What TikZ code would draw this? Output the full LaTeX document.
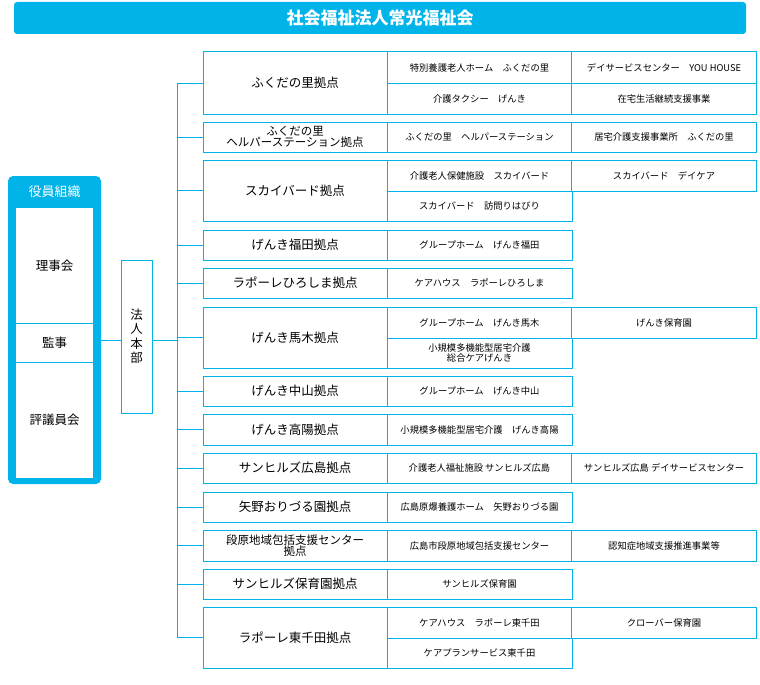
\documentclass[tikz,border=0pt]{standalone}
\usepackage{fontspec}
\setmainfont{Noto Sans CJK JP}
\usetikzlibrary{positioning}
\definecolor{sky}{HTML}{00B4EA}
\tikzset{
  box/.style={draw=sky, line width=1pt, fill=white, inner sep=0pt, align=center},
  base/.style={box, minimum width=184pt, font=\fontsize{12.5}{12.5}\selectfont},
  sub/.style={box, minimum width=185pt, minimum height=31pt, font=\fontsize{9.3}{10.5}\selectfont},
  link/.style={draw=sky, line width=1pt},
}
\begin{document}
\begin{tikzpicture}[x=1pt,y=-1pt]
    \useasboundingbox (0,0) rectangle (760,685);
    % title
    \node[fill=sky, rounded corners=3pt, minimum width=732pt, minimum height=32pt, text=white, font=\fontsize{17}{17}\selectfont\bfseries] (title) at (380,18) {社会福祉法人常光福祉会};
    % board
    \draw[fill=sky, draw=none, rounded corners=5pt] (8,176) rectangle (101,484);
    \node[text=white, font=\fontsize{13}{13}\selectfont] (yakuin) at (54.5,192) {役員組織};
    \node[box, draw=none, minimum width=77pt, minimum height=115pt, font=\fontsize{12.5}{12.5}\selectfont] (riji) at (54.5,265.5) {理事会};
    \node[box, draw=none, minimum width=77pt, minimum height=39pt, font=\fontsize{12.5}{12.5}\selectfont] (kanji) at (54.5,342.5) {監事};
    \node[box, draw=none, minimum width=77pt, minimum height=116pt, font=\fontsize{12.5}{12.5}\selectfont] (hyogi) at (54.5,420) {評議員会};
    \draw[sky, line width=1pt] (16,323) -- (93,323) (16,362) -- (93,362);
    \node[box, minimum width=31pt, minimum height=153pt, font=\fontsize{12.5}{14.5}\selectfont] (honbu) at (136.5,336.5) {法\\人\\本\\部};
    \coordinate (trunk) at (177,340);
    \draw[link] (101,340) -- (honbu.west |- 0,340);
    \draw[link] (honbu.east |- 0,340) -- (trunk);
    % bases
    \node[base, minimum height=62pt] (b1) at (295,83) {ふくだの里拠点};
    \node[base, minimum height=30pt, font=\fontsize{11.5}{11.5}\selectfont] (b2) at (295,137) {ふくだの里\\ヘルパーステーション拠点};
    \node[base, minimum height=61pt] (b3) at (295,190.5) {スカイバード拠点};
    \node[base, minimum height=30pt] (b4) at (295,245) {げんき福田拠点};
    \node[base, minimum height=30pt] (b5) at (295,283) {ラポーレひろしま拠点};
    \node[base, minimum height=61pt] (b6) at (295,337.5) {げんき馬木拠点};
    \node[base, minimum height=30pt] (b7) at (295,391) {げんき中山拠点};
    \node[base, minimum height=31pt] (b8) at (295,429.5) {げんき高陽拠点};
    \node[base, minimum height=30pt] (b9) at (295,468) {サンヒルズ広島拠点};
    \node[base, minimum height=30pt] (b10) at (295,507) {矢野おりづる園拠点};
    \node[base, minimum height=31pt, font=\fontsize{11.5}{11.5}\selectfont] (b11) at (295,545.5) {段原地域包括支援センター\\拠点};
    \node[base, minimum height=30pt] (b12) at (295,584) {サンヒルズ保育園拠点};
    \node[base, minimum height=61pt] (b13) at (295,637.5) {ラポーレ東千田拠点};
    \draw[link] (177,83) -- (177,638);
    \foreach \b in {b1,b2,b3,b4,b5,b6,b7,b8,b9,b10,b11,b12,b13}
      \draw[link] (177,0 |- \b.west) -- (\b.west);
    % services
    \node[sub] (s1a) at (479.5,67.5) {特別養護老人ホーム\quad ふくだの里};
    \node[sub] (s1b) at (664,67.5) {デイサービスセンター\quad YOU HOUSE};
    \node[sub] (s1c) at (479.5,98.5) {介護タクシー\quad げんき};
    \node[sub] (s1d) at (664,98.5) {在宅生活継続支援事業};
    \node[sub, minimum height=30pt] (s2a) at (479.5,137) {ふくだの里\quad ヘルパーステーション};
    \node[sub, minimum height=30pt] (s2b) at (664,137) {居宅介護支援事業所\quad ふくだの里};
    \node[sub] (s3a) at (479.5,175.5) {介護老人保健施設\quad スカイバード};
    \node[sub] (s3b) at (664,175.5) {スカイバード\quad デイケア};
    \node[sub, minimum height=30pt] (s3c) at (479.5,206) {スカイバード\quad 訪問りはびり};
    \node[sub, minimum height=30pt] (s4a) at (479.5,245) {グループホーム\quad げんき福田};
    \node[sub, minimum height=30pt] (s5a) at (479.5,283) {ケアハウス\quad ラポーレひろしま};
    \node[sub] (s6a) at (479.5,322.5) {グループホーム\quad げんき馬木};
    \node[sub] (s6b) at (664,322.5) {げんき保育園};
    \node[sub, minimum height=30pt] (s6c) at (479.5,353) {小規模多機能型居宅介護\\総合ケアげんき};
    \node[sub, minimum height=30pt] (s7a) at (479.5,391) {グループホーム\quad げんき中山};
    \node[sub] (s8a) at (479.5,429.5) {小規模多機能型居宅介護\quad げんき高陽};
    \node[sub, minimum height=30pt] (s9a) at (479.5,468) {介護老人福祉施設 サンヒルズ広島};
    \node[sub, minimum height=30pt] (s9b) at (664,468) {サンヒルズ広島 デイサービスセンター};
    \node[sub, minimum height=30pt] (s10a) at (479.5,507) {広島原爆養護ホーム\quad 矢野おりづる園};
    \node[sub] (s11a) at (479.5,545.5) {広島市段原地域包括支援センター};
    \node[sub] (s11b) at (664,545.5) {認知症地域支援推進事業等};
    \node[sub, minimum height=30pt] (s12a) at (479.5,584) {サンヒルズ保育園};
    \node[sub] (s13a) at (479.5,622.5) {ケアハウス\quad ラポーレ東千田};
    \node[sub] (s13b) at (664,622.5) {クローバー保育園};
    \node[sub, minimum height=30pt] (s13c) at (479.5,653) {ケアプランサービス東千田};
\end{tikzpicture}
\end{document}
